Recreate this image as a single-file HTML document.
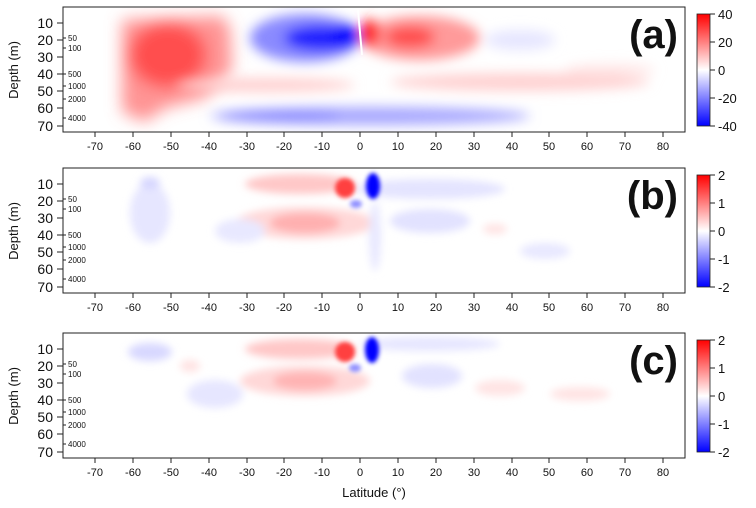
<!DOCTYPE html>
<html><head><meta charset="utf-8"><style>
html,body{margin:0;padding:0;background:#fff}
svg{display:block;font-family:"Liberation Sans",Arial,sans-serif}
</style></head><body>
<svg width="756" height="508" viewBox="0 0 756 508" xmlns="http://www.w3.org/2000/svg">
<defs>
<filter id="b8" x="-50%" y="-50%" width="200%" height="200%"><feGaussianBlur stdDeviation="8"/></filter>
<filter id="b6" x="-50%" y="-50%" width="200%" height="200%"><feGaussianBlur stdDeviation="6"/></filter>
<filter id="b4" x="-50%" y="-50%" width="200%" height="200%"><feGaussianBlur stdDeviation="4"/></filter>
<filter id="b2" x="-50%" y="-50%" width="200%" height="200%"><feGaussianBlur stdDeviation="2"/></filter>
<clipPath id="cp"><rect x="63" y="7" width="622" height="125"/></clipPath>
<linearGradient id="cb" x1="0" y1="0" x2="0" y2="1">
<stop offset="0" stop-color="#ff0000"/><stop offset="0.5" stop-color="#ffffff"/><stop offset="1" stop-color="#0000ff"/>
</linearGradient>
<g id="axes">
<rect x="63" y="7" width="622" height="125" fill="none" stroke="#222" stroke-width="1"/>
<g stroke="#222" stroke-width="1">
<line x1="95" y1="132" x2="95" y2="137"/><line x1="133" y1="132" x2="133" y2="137"/><line x1="171" y1="132" x2="171" y2="137"/><line x1="209" y1="132" x2="209" y2="137"/><line x1="247" y1="132" x2="247" y2="137"/><line x1="284" y1="132" x2="284" y2="137"/><line x1="322" y1="132" x2="322" y2="137"/><line x1="360" y1="132" x2="360" y2="137"/><line x1="398" y1="132" x2="398" y2="137"/><line x1="436" y1="132" x2="436" y2="137"/><line x1="474" y1="132" x2="474" y2="137"/><line x1="512" y1="132" x2="512" y2="137"/><line x1="549" y1="132" x2="549" y2="137"/><line x1="587" y1="132" x2="587" y2="137"/><line x1="625" y1="132" x2="625" y2="137"/><line x1="663" y1="132" x2="663" y2="137"/>
<line x1="57" y1="23" x2="63" y2="23"/><line x1="57" y1="40" x2="63" y2="40"/><line x1="57" y1="57" x2="63" y2="57"/><line x1="57" y1="74" x2="63" y2="74"/><line x1="57" y1="91" x2="63" y2="91"/><line x1="57" y1="108" x2="63" y2="108"/><line x1="57" y1="126" x2="63" y2="126"/>
<line x1="63" y1="38" x2="66" y2="38"/><line x1="63" y1="48" x2="66" y2="48"/><line x1="63" y1="74" x2="66" y2="74"/><line x1="63" y1="86" x2="66" y2="86"/><line x1="63" y1="99" x2="66" y2="99"/><line x1="63" y1="118" x2="66" y2="118"/>
</g>
<g font-size="11" text-anchor="middle" fill="#111">
<text x="95" y="150">-70</text><text x="133" y="150">-60</text><text x="171" y="150">-50</text><text x="209" y="150">-40</text><text x="247" y="150">-30</text><text x="284" y="150">-20</text><text x="322" y="150">-10</text><text x="360" y="150">0</text><text x="398" y="150">10</text><text x="436" y="150">20</text><text x="474" y="150">30</text><text x="512" y="150">40</text><text x="549" y="150">50</text><text x="587" y="150">60</text><text x="625" y="150">70</text><text x="663" y="150">80</text>
</g>
<g font-size="14" text-anchor="end" fill="#111">
<text x="53" y="28">10</text><text x="53" y="45">20</text><text x="53" y="62">30</text><text x="53" y="79">40</text><text x="53" y="96">50</text><text x="53" y="113">60</text><text x="53" y="131">70</text>
</g>
<g font-size="8" fill="#111">
<text x="68" y="41">50</text><text x="68" y="51">100</text><text x="68" y="77">500</text><text x="68" y="89">1000</text><text x="68" y="102">2000</text><text x="68" y="121">4000</text>
</g>
<text transform="translate(18,70) rotate(-90)" font-size="13" text-anchor="middle" fill="#111">Depth (m)</text>
<rect x="697" y="14" width="13" height="112" fill="url(#cb)" stroke="#222" stroke-width="0.8"/>
<g stroke="#222"><line x1="710" y1="14" x2="715" y2="14"/><line x1="710" y1="42" x2="715" y2="42"/><line x1="710" y1="70" x2="715" y2="70"/><line x1="710" y1="98" x2="715" y2="98"/><line x1="710" y1="126" x2="715" y2="126"/></g>
</g>
</defs>

<!-- Panel a -->
<g clip-path="url(#cp)">
<g filter="url(#b8)">
<path d="M122 20 L222 16 L230 28 L232 70 L205 98 L165 108 L145 122 L122 112 Z" fill="#ff7070" opacity="0.75"/>
<ellipse cx="168" cy="55" rx="38" ry="32" fill="#ff3030" opacity="0.7"/>
</g>
<g filter="url(#b6)">
<ellipse cx="265" cy="85" rx="90" ry="7" fill="#ffd0d0"/>
<ellipse cx="520" cy="82" rx="130" ry="9" fill="#ffd2d2"/>
<ellipse cx="610" cy="70" rx="45" ry="6" fill="#ffe6e6"/>
<ellipse cx="305" cy="38" rx="55" ry="24" fill="#8a8aff"/>
<ellipse cx="322" cy="38" rx="38" ry="13" fill="#2020ff"/>
<ellipse cx="345" cy="36" rx="14" ry="12" fill="#0000ff"/>
<ellipse cx="420" cy="38" rx="60" ry="22" fill="#ff9a9a"/>
<ellipse cx="410" cy="37" rx="25" ry="11" fill="#ff5050"/>
<ellipse cx="370" cy="33" rx="9" ry="14" fill="#ff1010"/>
<ellipse cx="370" cy="116" rx="160" ry="9" fill="#a8a8ff"/>
<ellipse cx="280" cy="116" rx="60" ry="6" fill="#8a8aff"/>
<ellipse cx="520" cy="40" rx="35" ry="10" fill="#e6e6ff"/>
</g>
<line x1="358" y1="10" x2="362" y2="55" stroke="#fff" stroke-width="2"/>
</g>
<use href="#axes"/>
<text x="678" y="48" font-size="40" font-weight="bold" text-anchor="end" fill="#111">(a)</text>
<g font-size="13" fill="#111"><text x="718" y="19">40</text><text x="718" y="47">20</text><text x="718" y="75">0</text><text x="718" y="103">-20</text><text x="718" y="131">-40</text></g>

<!-- Panel b -->
<g transform="translate(0,161)">
<g clip-path="url(#cp)">
<g filter="url(#b4)">
<ellipse cx="300" cy="23" rx="55" ry="10" fill="#ffc8c8"/>
<ellipse cx="305" cy="62" rx="70" ry="16" fill="#ffd8d8"/>
<ellipse cx="305" cy="62" rx="35" ry="10" fill="#ffb0b0"/>
<ellipse cx="150" cy="52" rx="20" ry="30" fill="#e6e6ff"/>
<ellipse cx="240" cy="70" rx="25" ry="12" fill="#e8e8ff"/>
<ellipse cx="430" cy="28" rx="75" ry="10" fill="#e4e4ff"/>
<ellipse cx="430" cy="60" rx="40" ry="12" fill="#e2e2ff"/>
<ellipse cx="375" cy="75" rx="6" ry="35" fill="#e8e8ff"/>
<ellipse cx="150" cy="22" rx="10" ry="6" fill="#d6d6ff"/>
<ellipse cx="545" cy="90" rx="25" ry="8" fill="#e8e8ff"/>
<ellipse cx="495" cy="68" rx="12" ry="5" fill="#ffe2e2"/>
</g>
<g filter="url(#b2)">
<ellipse cx="345" cy="27" rx="10" ry="10" fill="#ff4040"/>
<ellipse cx="373" cy="25" rx="7" ry="13" fill="#0000ff"/>
<ellipse cx="356" cy="43" rx="6" ry="4" fill="#9090ff"/>
</g>
</g>
<use href="#axes"/>
<text x="678" y="48" font-size="40" font-weight="bold" text-anchor="end" fill="#111">(b)</text>
<g font-size="13" fill="#111"><text x="718" y="19">2</text><text x="718" y="47">1</text><text x="718" y="75">0</text><text x="718" y="103">-1</text><text x="718" y="131">-2</text></g>
</g>

<!-- Panel c -->
<g transform="translate(0,326)">
<g clip-path="url(#cp)">
<g filter="url(#b4)">
<ellipse cx="300" cy="23" rx="55" ry="10" fill="#ffc8c8"/>
<ellipse cx="305" cy="55" rx="65" ry="15" fill="#ffd8d8"/>
<ellipse cx="305" cy="55" rx="32" ry="9" fill="#ffb4b4"/>
<ellipse cx="150" cy="26" rx="22" ry="9" fill="#d8d8ff"/>
<ellipse cx="215" cy="68" rx="28" ry="14" fill="#e6e6ff"/>
<ellipse cx="190" cy="40" rx="10" ry="6" fill="#ffe2e2"/>
<ellipse cx="430" cy="18" rx="70" ry="7" fill="#e6e6ff"/>
<ellipse cx="432" cy="50" rx="30" ry="12" fill="#e2e2ff"/>
<ellipse cx="500" cy="62" rx="25" ry="8" fill="#ffe4e4"/>
<ellipse cx="580" cy="68" rx="30" ry="7" fill="#ffe4e4"/>
</g>
<g filter="url(#b2)">
<ellipse cx="345" cy="26" rx="10" ry="10" fill="#ff4040"/>
<ellipse cx="372" cy="24" rx="7" ry="13" fill="#0000ff"/>
<ellipse cx="355" cy="42" rx="6" ry="4" fill="#9090ff"/>
</g>
</g>
<use href="#axes"/>
<text x="678" y="48" font-size="40" font-weight="bold" text-anchor="end" fill="#111">(c)</text>
<g font-size="13" fill="#111"><text x="718" y="19">2</text><text x="718" y="47">1</text><text x="718" y="75">0</text><text x="718" y="103">-1</text><text x="718" y="131">-2</text></g>
</g>

<text x="374" y="497" font-size="13" text-anchor="middle" fill="#111">Latitude (°)</text>
</svg>
</body></html>
